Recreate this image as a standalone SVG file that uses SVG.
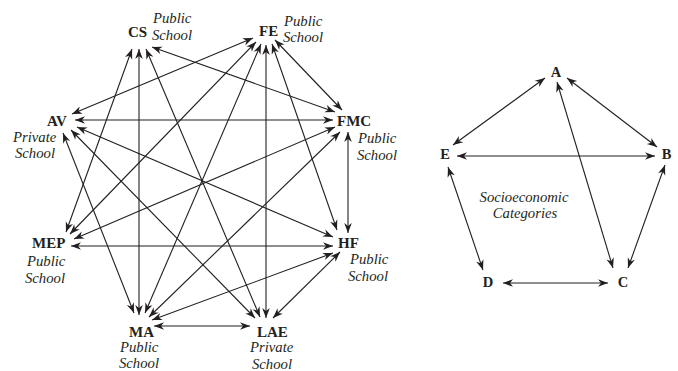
<svg xmlns="http://www.w3.org/2000/svg" width="678" height="371" viewBox="0 0 678 371">
<style>
.e{stroke:#231f20;stroke-width:1.1;fill:none;marker-start:url(#ah);marker-end:url(#ah)}
.n{font-family:"Liberation Serif","Times New Roman",serif;font-weight:bold;font-size:15px;fill:#231f20}
.s{font-family:"Liberation Serif","Times New Roman",serif;font-style:italic;font-size:14.7px;fill:#231f20}
.r{font-family:"Liberation Serif","Times New Roman",serif;font-weight:bold;font-size:14.5px;fill:#231f20;text-anchor:middle}
</style>
<defs>
<marker id="ah" markerUnits="userSpaceOnUse" viewBox="-11 -5 12 10" markerWidth="12" markerHeight="10" refX="0" refY="0" orient="auto-start-reverse">
<path d="M0,0 L-10,-3.8 L-7,0 L-10,3.8 Z" fill="#231f20"/>
</marker>
</defs>
<rect width="678" height="371" fill="#fff"/>
<g id="connectors">
<line class="e" x1="132" y1="49" x2="66" y2="232"/>
<line class="e" x1="139" y1="49" x2="139" y2="315"/>
<line class="e" x1="146" y1="49" x2="260" y2="317"/>
<line class="e" x1="152" y1="47" x2="335" y2="112"/>
<line class="e" x1="253" y1="38" x2="72" y2="114"/>
<line class="e" x1="256" y1="42" x2="70" y2="234"/>
<line class="e" x1="261" y1="44" x2="145" y2="313"/>
<line class="e" x1="266" y1="45" x2="266" y2="318"/>
<line class="e" x1="272" y1="44" x2="337" y2="230"/>
<line class="e" x1="275" y1="40" x2="342" y2="110"/>
<line class="e" x1="75" y1="120" x2="333" y2="120"/>
<line class="e" x1="77" y1="127" x2="333" y2="237"/>
<line class="e" x1="71" y1="130" x2="255" y2="318"/>
<line class="e" x1="63" y1="133" x2="134" y2="313"/>
<line class="e" x1="74" y1="239" x2="335" y2="127"/>
<line class="e" x1="71" y1="246" x2="333" y2="246"/>
<line class="e" x1="149" y1="317" x2="340" y2="132"/>
<line class="e" x1="152" y1="320" x2="333" y2="253"/>
<line class="e" x1="154" y1="326" x2="250" y2="326"/>
<line class="e" x1="273" y1="318" x2="340" y2="252"/>
<line class="e" x1="348" y1="233" x2="348" y2="132"/>
<line class="e" x1="545" y1="78" x2="453" y2="145"/>
<line class="e" x1="567" y1="78" x2="657" y2="147"/>
<line class="e" x1="457" y1="156" x2="655" y2="156"/>
<line class="e" x1="557" y1="82" x2="613" y2="268"/>
<line class="e" x1="448" y1="167" x2="483" y2="270"/>
<line class="e" x1="665" y1="165" x2="628" y2="268"/>
<line class="e" x1="503" y1="283" x2="608" y2="283"/>
</g>
<g id="CS"><text class="n" x="128" y="36.5">CS</text><text class="s" x="153" y="23">Public</text><text class="s" x="152" y="39.5">School</text></g>
<g id="FE"><text class="n" x="259" y="35.5">FE</text><text class="s" x="284" y="26">Public</text><text class="s" x="283" y="42">School</text></g>
<g id="FMC"><text class="n" x="337" y="126">FMC</text><text class="s" x="358" y="143">Public</text><text class="s" x="357" y="160">School</text></g>
<g id="AV"><text class="n" x="47" y="126">AV</text><text class="s" x="13" y="142">Private</text><text class="s" x="15" y="158">School</text></g>
<g id="MEP"><text class="n" x="32" y="248">MEP</text><text class="s" x="27" y="266">Public</text><text class="s" x="25" y="283">School</text></g>
<g id="MA"><text class="n" x="129" y="337">MA</text><text class="s" x="120" y="352">Public</text><text class="s" x="119" y="368">School</text></g>
<g id="HF"><text class="n" x="338" y="248">HF</text><text class="s" x="350" y="264">Public</text><text class="s" x="348" y="281">School</text></g>
<g id="LAE"><text class="n" x="257" y="337">LAE</text><text class="s" x="250" y="352">Private</text><text class="s" x="252" y="369">School</text></g>
<g id="A"><text class="r" x="556" y="77">A</text></g>
<g id="B"><text class="r" x="666.5" y="158.5">B</text></g>
<g id="C"><text class="r" x="623" y="287">C</text></g>
<g id="D"><text class="r" x="488" y="287">D</text></g>
<g id="E"><text class="r" x="445" y="158.5">E</text></g>
<g id="caption"><text class="s" x="524" y="202" text-anchor="middle">Socioeconomic</text><text class="s" x="525" y="218" text-anchor="middle">Categories</text></g>
</svg>
